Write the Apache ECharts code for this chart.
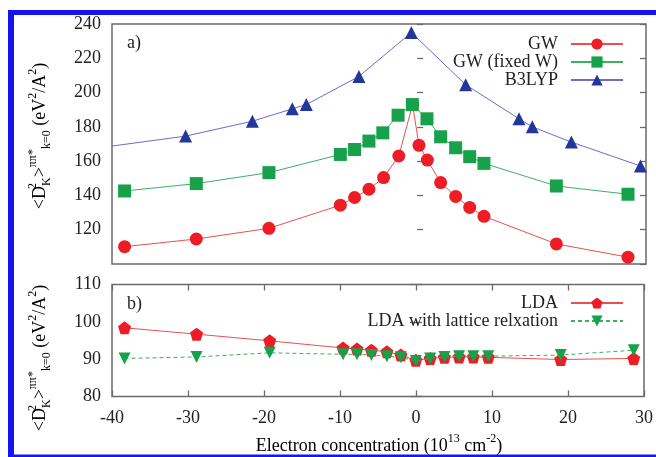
<!DOCTYPE html>
<html>
<head>
<meta charset="utf-8">
<script src="https://cdn.jsdelivr.net/npm/echarts@6/dist/echarts.min.js"></script>
<style>
html,body{margin:0;padding:0;background:#fff;}
#chart{width:656px;height:457px;}
</style>
</head>
<body>
<div id="chart"></div>
<script>
// ---- data ----
var gwX  = [-38.35, -28.95, -19.43, -10.07, -8.2, -6.32, -4.4, -2.4, -0.6, 0.24, 1.34, 3.08, 5.05, 6.89, 8.76, 18.25, 27.64];
var gwY  = [110.1, 114.6, 120.8, 134.3, 138.8, 143.6, 150.4, 163.0, 193.0, 169.2, 160.6, 147.5, 139.4, 133.0, 127.8, 111.7, 104.0];
var gwfX = [-38.35, -28.95, -19.43, -10.07, -8.2, -6.32, -4.5, -2.5, -0.63, 1.29, 3.08, 5.05, 6.89, 8.76, 18.25, 27.64];
var gwfY = [142.6, 146.9, 153.3, 163.9, 166.8, 171.7, 176.5, 186.8, 193.0, 184.7, 174.2, 167.8, 162.6, 158.7, 145.5, 140.7];
var b3X  = [-40, -30.35, -21.6, -16.36, -14.53, -7.63, -0.76, 6.36, 13.35, 15.1, 20.22, 29.27];
var b3Y  = [168.8, 174.6, 183.3, 190.5, 193.0, 209.4, 235.0, 204.6, 184.7, 180.0, 171.1, 157.2];
var ldaX = [-38.35, -28.87, -19.25, -9.6, -7.76, -5.87, -3.83, -1.99, -0.02, 1.86, 3.74, 5.67, 7.54, 9.51, 19.04, 28.65];
var ldaY = [98.4, 96.7, 94.9, 93.0, 92.7, 92.4, 92.0, 91.1, 89.7, 90.2, 90.5, 90.6, 90.6, 90.5, 89.9, 90.2];
var ldrY = [90.2, 90.6, 91.7, 91.3, 91.3, 91.1, 90.8, 90.5, 89.5, 90.2, 90.6, 90.8, 90.8, 90.8, 91.1, 92.4];
var xTicks = [-40, 30, 10];      // min, max, step
var yTopTicks = [100, 240, 20];
var yBotTicks = [80, 110, 10];
var names = ['GW', 'GW (fixed W)', 'B3LYP', 'LDA', 'LDA with lattice relxation'];

function pairs(xs, ys) { return xs.map(function (x, i) { return [x, ys[i]]; }); }

var FONT = 'Liberation Serif';
var AX = '#6a6a6a';
var pentagon = 'path://M0,-1 L0.951,-0.309 L0.588,0.809 L-0.588,0.809 L-0.951,-0.309 Z';

var chart = echarts.init(document.getElementById('chart'), null, {renderer: 'canvas'});

function xAx(grid, opts) {
  return Object.assign({
    type: 'value', gridIndex: grid, min: xTicks[0], max: xTicks[1], interval: xTicks[2],
    axisLine: {show: false}, splitLine: {show: false},
    axisTick: {show: true, inside: true, length: 6, lineStyle: {color: AX, width: 1.3}},
    axisLabel: {show: false, fontFamily: FONT, fontSize: 18, color: '#222', margin: 13}
  }, opts);
}
function yAx(grid, t, opts) {
  return Object.assign({
    type: 'value', gridIndex: grid, min: t[0], max: t[1], interval: t[2],
    axisLine: {show: false}, splitLine: {show: false},
    axisTick: {show: true, inside: true, length: 6, lineStyle: {color: AX, width: 1.3}},
    axisLabel: {show: false, fontFamily: FONT, fontSize: 18, color: '#222', margin: 11}
  }, opts);
}

var richLab = {
  m: {fontFamily: FONT, fontSize: 18, color: '#222', lineHeight: 26},
  sup: {fontFamily: FONT, fontSize: 12, color: '#222', lineHeight: 12, verticalAlign: 'top'},
  sup0: {fontFamily: FONT, fontSize: 12, color: '#222', lineHeight: 12, verticalAlign: 'top', width: 0},
  sub: {fontFamily: FONT, fontSize: 12, color: '#222', lineHeight: 12, verticalAlign: 'bottom'}
};
var yLabelText = '{m|<D}{sup0|2}{sub|K}{m|>}{sup|ππ*}{sub|k=0}{m| (eV}{sup|2}{m|/A}{sup|2}{m|)}';

var option = {
  animation: false,
  backgroundColor: '#fff',
  grid: [
    {left: 112, right: 10, top: 24, height: 240, show: true, borderColor: AX, borderWidth: 1.5, backgroundColor: 'transparent'},
    {left: 112, right: 10, top: 284.5, height: 112, show: true, borderColor: AX, borderWidth: 1.5, backgroundColor: 'transparent'}
  ],
  xAxis: [
    xAx(0, {axisTick: {show: false}}),
    xAx(1, {position: 'bottom', axisLabel: {show: true, fontFamily: FONT, fontSize: 18, color: '#222', margin: 13}}),
    xAx(1, {position: 'top'})
  ],
  yAxis: [
    yAx(0, yTopTicks, {position: 'left', axisLabel: {show: true, showMinLabel: false, fontFamily: FONT, fontSize: 18, color: '#222', margin: 11}}),
    yAx(0, yTopTicks, {position: 'right'}),
    yAx(1, yBotTicks, {position: 'left', axisLabel: {show: true, fontFamily: FONT, fontSize: 18, color: '#222', margin: 11}}),
    yAx(1, yBotTicks, {position: 'right'})
  ],
  legend: [
    {
      data: names.slice(0, 3), orient: 'vertical', align: 'right', right: 27, top: 30,
      itemWidth: 52, itemHeight: 14, itemGap: 0,
      textStyle: {fontFamily: FONT, fontSize: 18, color: '#222', lineHeight: 18, padding: [0, 8, 0, 0]}
    },
    {
      data: names.slice(3), orient: 'vertical', align: 'right', right: 27, top: 289,
      itemWidth: 52, itemHeight: 14, itemGap: 0,
      textStyle: {fontFamily: FONT, fontSize: 18, color: '#222', lineHeight: 18, padding: [0, 8, 0, 0]}
    }
  ],
  series: [
    {
      name: names[0], type: 'line', xAxisIndex: 0, yAxisIndex: 0, data: pairs(gwX, gwY),
      symbol: 'circle', symbolSize: 13, itemStyle: {color: '#ee1c25'},
      lineStyle: {color: '#e85050', width: 1}, z: 3
    },
    {
      name: names[1], type: 'line', xAxisIndex: 0, yAxisIndex: 0, data: pairs(gwfX, gwfY),
      symbol: 'rect', symbolSize: 13, itemStyle: {color: '#17a14b'},
      lineStyle: {color: '#3cb060', width: 1}, z: 4
    },
    {
      name: names[2], type: 'line', xAxisIndex: 0, yAxisIndex: 0,
      data: pairs(b3X, b3Y).map(function (p, i) { return i === 0 ? {value: p, symbol: 'none'} : p; }),
      symbol: 'triangle', symbolSize: 13, itemStyle: {color: '#23379a'},
      lineStyle: {color: '#6a6ec4', width: 1}, z: 2
    },
    {
      name: names[3], type: 'line', xAxisIndex: 1, yAxisIndex: 2, data: pairs(ldaX, ldaY),
      symbol: pentagon, symbolSize: 13, itemStyle: {color: '#ee1c25'},
      lineStyle: {color: '#e85050', width: 1}, z: 3
    },
    {
      name: names[4], type: 'line', xAxisIndex: 1, yAxisIndex: 2, data: pairs(ldaX, ldrY),
      symbol: 'triangle', symbolRotate: 180, symbolSize: 12, itemStyle: {color: '#17a14b'},
      lineStyle: {color: '#3cb060', width: 1, type: [4, 3]}, z: 4
    }
  ],
  graphic: [
    {type: 'rect', shape: {x: 8, y: 10, width: 648, height: 5}, style: {fill: '#1414f0'}, silent: true},
    {type: 'rect', shape: {x: 8, y: 10, width: 6, height: 447}, style: {fill: '#1414f0'}, silent: true},
    {type: 'rect', shape: {x: 8, y: 454.5, width: 648, height: 2.5}, style: {fill: '#1414f0'}, silent: true},
    {type: 'text', left: 127, top: 34, style: {text: 'a)', font: '18px "Liberation Serif"', fill: '#222'}},
    {type: 'text', left: 127, top: 295, style: {text: 'b)', font: '18px "Liberation Serif"', fill: '#222'}},
    {type: 'text', x: 40, y: 136, rotation: Math.PI / 2,
     style: {text: yLabelText, rich: richLab, align: 'center', verticalAlign: 'middle'}},
    {type: 'text', x: 40, y: 358, rotation: Math.PI / 2,
     style: {text: yLabelText, rich: richLab, align: 'center', verticalAlign: 'middle'}},
    {type: 'text', x: 379, y: 446,
     style: {text: '{m|Electron concentration (10}{sup|13}{m| cm}{sup|-2}{m|)}', rich: richLab, align: 'center', verticalAlign: 'middle'}}
  ]
};
chart.setOption(option);
</script>
</body>
</html>
